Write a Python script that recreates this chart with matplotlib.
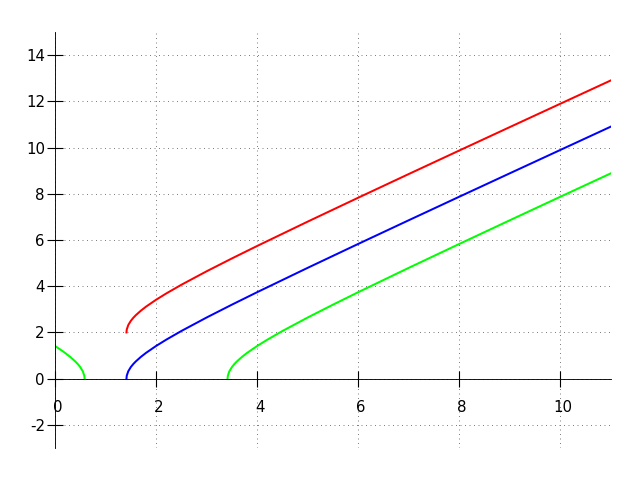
import matplotlib
matplotlib.use("Agg")
import matplotlib.pyplot as plt
import matplotlib.transforms as mtransforms

plt.rcParams["axes.unicode_minus"] = False

# points
blue_x = [1.414, 1.42, 1.45, 1.5, 1.55, 1.6, 1.7, 1.8, 2.0, 2.2, 2.5, 3.0, 3.5, 4, 5, 6, 7, 8, 9, 10, 11]
blue_y = [0.0, 0.128, 0.32, 0.5, 0.635, 0.748, 0.943, 1.114, 1.414, 1.685, 2.062, 2.646, 3.202,
          3.742, 4.796, 5.831, 6.856, 7.874, 8.888, 9.899, 10.909]
red_x = blue_x
red_y = [2.0, 2.128, 2.32, 2.5, 2.635, 2.748, 2.943, 3.114, 3.414, 3.685, 4.062, 4.646, 5.202,
         5.742, 6.796, 7.831, 8.856, 9.874, 10.888, 11.899, 12.909]
green_x = [3.414, 3.42, 3.45, 3.5, 3.55, 3.6, 3.7, 3.8, 4.0, 4.2, 4.5, 5.0, 5.5, 6, 7, 8, 9, 10, 11]
green_y = [0.0, 0.128, 0.32, 0.5, 0.635, 0.748, 0.943, 1.114, 1.414, 1.685, 2.062, 2.646, 3.202,
           3.742, 4.796, 5.831, 6.856, 7.874, 8.888]
green2_x = [0.0, 0.1, 0.2, 0.3, 0.4, 0.45, 0.5, 0.55, 0.58, 0.586]
green2_y = [1.414, 1.269, 1.114, 0.943, 0.748, 0.635, 0.5, 0.32, 0.128, 0.0]

xticks = [0, 2, 4, 6, 8, 10]
yticks = [-2, 0, 2, 4, 6, 8, 10, 12, 14]

fig = plt.figure(figsize=(8, 6), dpi=80)
ax = fig.add_axes([0.0859, 0.0667, 0.8688, 0.8666])

ax.plot(red_x, red_y, color="#ff0000", lw=1.8)
ax.plot(blue_x, blue_y, color="#0000ff", lw=1.8)
ax.plot(green_x, green_y, color="#00ff00", lw=1.8)
ax.plot(green2_x, green2_y, color="#00ff00", lw=1.8)

ax.set_xlim(0, 11)
ax.set_ylim(-3, 15)
ax.set_xticks(xticks)
ax.set_yticks(yticks)

ax.spines["left"].set_position(("data", 0))
ax.spines["bottom"].set_position(("data", 0))
ax.spines["top"].set_visible(False)
ax.spines["right"].set_visible(False)

ax.grid(True, color="#808080", lw=0.9, dashes=(1, 3.5))
ax.tick_params(direction="inout", length=14, width=1, labelsize=13.5)
ax.tick_params(axis="x", pad=12)
ax.tick_params(axis="y", pad=2)

shift = mtransforms.ScaledTranslation(2.5 / 80, 0, fig.dpi_scale_trans)
for lab in ax.get_xticklabels():
    lab.set_transform(lab.get_transform() + shift)

fig.savefig("out.png", dpi=80)
